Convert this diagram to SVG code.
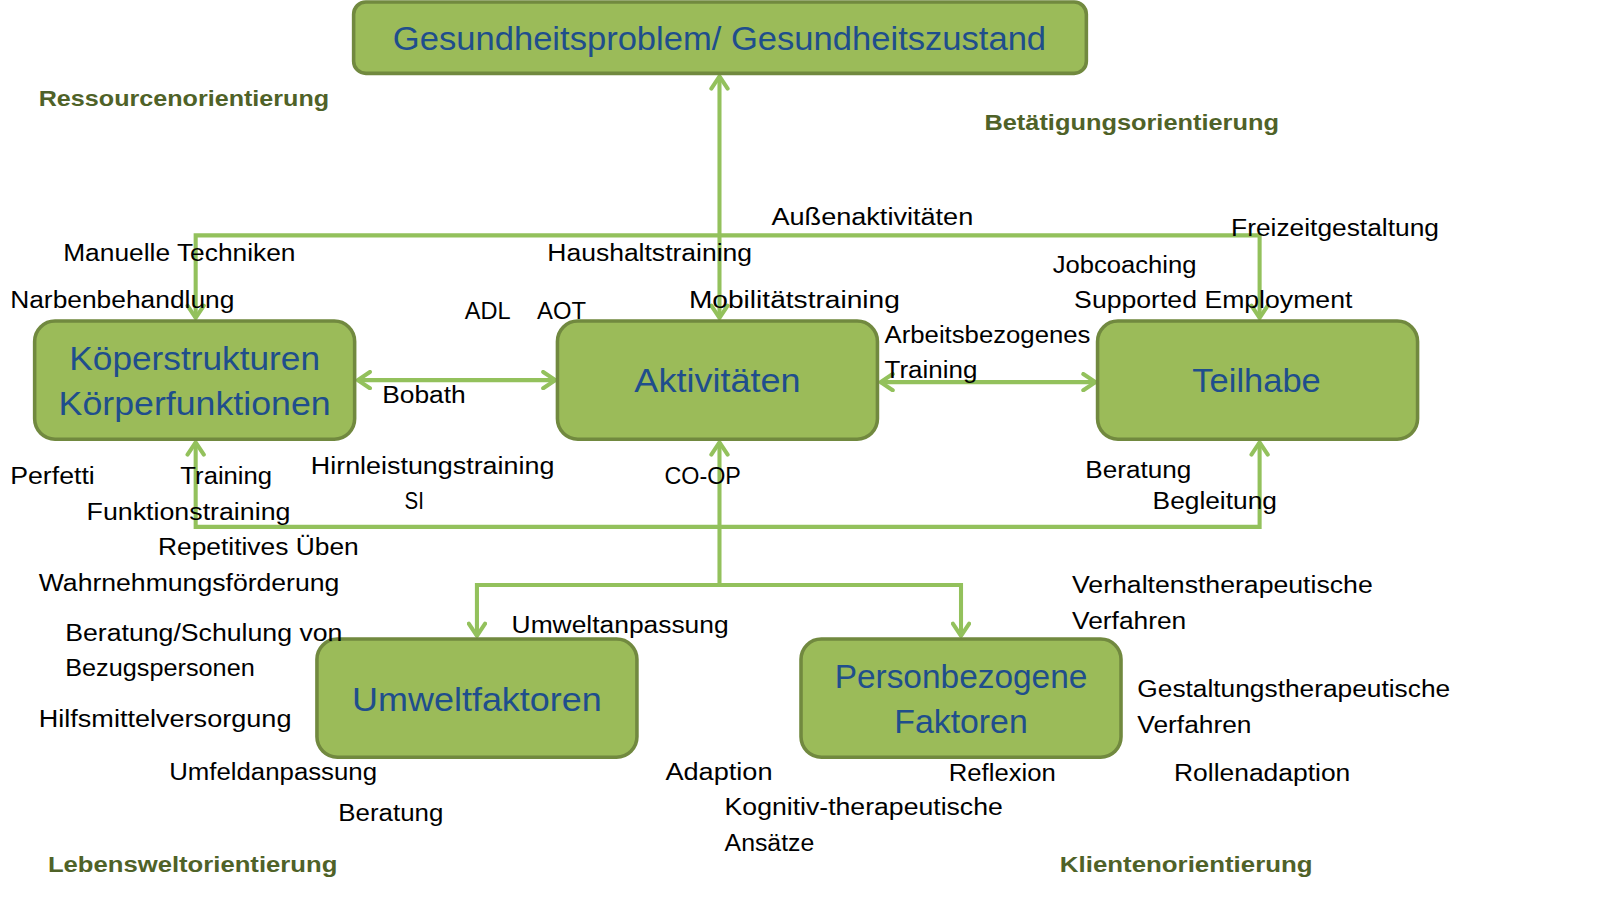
<svg xmlns="http://www.w3.org/2000/svg" width="1598" height="898" viewBox="0 0 1598 898">
<defs>
<style>
.box{fill:#9BBB59;stroke:#71893F;stroke-width:3.5}
.title{font-family:"Liberation Sans",Arial,sans-serif;font-size:33px;fill:#1F4E8C;text-anchor:middle}
.lbl{font-family:"Liberation Sans",Arial,sans-serif;font-size:23.5px;fill:#000}
.ori{font-family:"Liberation Sans",Arial,sans-serif;font-size:22px;font-weight:bold;fill:#4F6228}
.con{fill:none;stroke:#93C15C;stroke-width:4}
</style>
<marker id="ah" viewBox="0 0 20 20" refX="18" refY="10" markerWidth="20" markerHeight="20" markerUnits="userSpaceOnUse" orient="auto-start-reverse">
<path d="M6,2 L18,10 L6,18" fill="none" stroke="#93C15C" stroke-width="4" stroke-linecap="round" stroke-linejoin="round"/>
</marker>
</defs>
<rect width="1598" height="898" fill="#fff"/>
<g id="diagram" transform="scale(1.0191)">
<g id="connectors">
<line class="con" x1="706" y1="312" x2="706" y2="75" marker-start="url(#ah)" marker-end="url(#ah)"/>
<path class="con" d="M192,312 V231 H1236 V312" marker-start="url(#ah)" marker-end="url(#ah)"/>
<line class="con" x1="351" y1="373" x2="545" y2="373" marker-start="url(#ah)" marker-end="url(#ah)"/>
<line class="con" x1="864" y1="375" x2="1075" y2="375" marker-start="url(#ah)" marker-end="url(#ah)"/>
<path class="con" d="M192,434 V517 H1236 V434" marker-start="url(#ah)" marker-end="url(#ah)"/>
<line class="con" x1="706" y1="574" x2="706" y2="434" marker-end="url(#ah)"/>
<path class="con" d="M468,624 V574 H943 V624" marker-start="url(#ah)" marker-end="url(#ah)"/>
</g>

<g id="n-gesundheit">
<rect class="box" x="347" y="2" width="719" height="70" rx="12"/>
<text class="title" x="706" y="49" textLength="641" lengthAdjust="spacingAndGlyphs">Gesundheitsproblem/ Gesundheitszustand</text>
</g>
<g id="n-koerper">
<rect class="box" x="34" y="315" width="314" height="116" rx="20"/>
<text class="title" x="191" y="363" textLength="246" lengthAdjust="spacingAndGlyphs">Köperstrukturen</text>
<text class="title" x="191" y="407" textLength="267" lengthAdjust="spacingAndGlyphs">Körperfunktionen</text>
</g>
<g id="n-aktivitaeten">
<rect class="box" x="547" y="315" width="314" height="116" rx="20"/>
<text class="title" x="704" y="385" textLength="163" lengthAdjust="spacingAndGlyphs">Aktivitäten</text>
</g>
<g id="n-teilhabe">
<rect class="box" x="1077" y="315" width="314" height="116" rx="20"/>
<text class="title" x="1233" y="385" textLength="126" lengthAdjust="spacingAndGlyphs">Teilhabe</text>
</g>
<g id="n-umwelt">
<rect class="box" x="311" y="627" width="314" height="116" rx="20"/>
<text class="title" x="468" y="698" textLength="245" lengthAdjust="spacingAndGlyphs">Umweltfaktoren</text>
</g>
<g id="n-person">
<rect class="box" x="786" y="627" width="314" height="116" rx="20"/>
<text class="title" x="943" y="675" textLength="248" lengthAdjust="spacingAndGlyphs">Personbezogene</text>
<text class="title" x="943" y="719" textLength="131" lengthAdjust="spacingAndGlyphs">Faktoren</text>
</g>

<g id="orientations">
<text class="ori" x="38" y="104" textLength="285" lengthAdjust="spacingAndGlyphs">Ressourcenorientierung</text>
<text class="ori" x="966" y="128" textLength="289" lengthAdjust="spacingAndGlyphs">Betätigungsorientierung</text>
<text class="ori" x="47" y="856" textLength="284" lengthAdjust="spacingAndGlyphs">Lebensweltorientierung</text>
<text class="ori" x="1040" y="856" textLength="248" lengthAdjust="spacingAndGlyphs">Klientenorientierung</text>
</g>

<g id="labels">
<text class="lbl" x="757" y="221" textLength="198" lengthAdjust="spacingAndGlyphs">Außenaktivitäten</text>
<text class="lbl" x="1208" y="232" textLength="204" lengthAdjust="spacingAndGlyphs">Freizeitgestaltung</text>
<text class="lbl" x="62" y="256" textLength="228" lengthAdjust="spacingAndGlyphs">Manuelle Techniken</text>
<text class="lbl" x="537" y="256" textLength="201" lengthAdjust="spacingAndGlyphs">Haushaltstraining</text>
<text class="lbl" x="1033" y="268" textLength="141" lengthAdjust="spacingAndGlyphs">Jobcoaching</text>
<text class="lbl" x="10" y="302" textLength="220" lengthAdjust="spacingAndGlyphs">Narbenbehandlung</text>
<text class="lbl" x="676" y="302" textLength="207" lengthAdjust="spacingAndGlyphs">Mobilitätstraining</text>
<text class="lbl" x="1054" y="302" textLength="273" lengthAdjust="spacingAndGlyphs">Supported Employment</text>
<text class="lbl" x="456" y="313" textLength="45" lengthAdjust="spacingAndGlyphs">ADL</text>
<text class="lbl" x="527" y="313" textLength="48" lengthAdjust="spacingAndGlyphs">AOT</text>
<text class="lbl" x="868" y="337" textLength="202" lengthAdjust="spacingAndGlyphs">Arbeitsbezogenes</text>
<text class="lbl" x="868" y="371" textLength="91" lengthAdjust="spacingAndGlyphs">Training</text>
<text class="lbl" x="375" y="395" textLength="82" lengthAdjust="spacingAndGlyphs">Bobath</text>
<text class="lbl" x="305" y="465" textLength="239" lengthAdjust="spacingAndGlyphs">Hirnleistungstraining</text>
<text class="lbl" x="10" y="475" textLength="83" lengthAdjust="spacingAndGlyphs">Perfetti</text>
<text class="lbl" x="177" y="475" textLength="90" lengthAdjust="spacingAndGlyphs">Training</text>
<text class="lbl" x="652" y="475" textLength="75" lengthAdjust="spacingAndGlyphs">CO-OP</text>
<text class="lbl" x="1065" y="469" textLength="104" lengthAdjust="spacingAndGlyphs">Beratung</text>
<text class="lbl" x="397" y="499" textLength="19" lengthAdjust="spacingAndGlyphs">SI</text>
<text class="lbl" x="1131" y="499" textLength="122" lengthAdjust="spacingAndGlyphs">Begleitung</text>
<text class="lbl" x="85" y="510" textLength="200" lengthAdjust="spacingAndGlyphs">Funktionstraining</text>
<text class="lbl" x="155" y="545" textLength="197" lengthAdjust="spacingAndGlyphs">Repetitives Üben</text>
<text class="lbl" x="38" y="580" textLength="295" lengthAdjust="spacingAndGlyphs">Wahrnehmungsförderung</text>
<text class="lbl" x="1052" y="582" textLength="295" lengthAdjust="spacingAndGlyphs">Verhaltenstherapeutische</text>
<text class="lbl" x="1052" y="617" textLength="112" lengthAdjust="spacingAndGlyphs">Verfahren</text>
<text class="lbl" x="502" y="621" textLength="213" lengthAdjust="spacingAndGlyphs">Umweltanpassung</text>
<text class="lbl" x="64" y="629" textLength="272" lengthAdjust="spacingAndGlyphs">Beratung/Schulung von</text>
<text class="lbl" x="64" y="663" textLength="186" lengthAdjust="spacingAndGlyphs">Bezugspersonen</text>
<text class="lbl" x="1116" y="684" textLength="307" lengthAdjust="spacingAndGlyphs">Gestaltungstherapeutische</text>
<text class="lbl" x="1116" y="719" textLength="112" lengthAdjust="spacingAndGlyphs">Verfahren</text>
<text class="lbl" x="38" y="713" textLength="248" lengthAdjust="spacingAndGlyphs">Hilfsmittelversorgung</text>
<text class="lbl" x="166" y="765" textLength="204" lengthAdjust="spacingAndGlyphs">Umfeldanpassung</text>
<text class="lbl" x="653" y="765" textLength="105" lengthAdjust="spacingAndGlyphs">Adaption</text>
<text class="lbl" x="931" y="766" textLength="105" lengthAdjust="spacingAndGlyphs">Reflexion</text>
<text class="lbl" x="1152" y="766" textLength="173" lengthAdjust="spacingAndGlyphs">Rollenadaption</text>
<text class="lbl" x="711" y="800" textLength="273" lengthAdjust="spacingAndGlyphs">Kognitiv-therapeutische</text>
<text class="lbl" x="332" y="806" textLength="103" lengthAdjust="spacingAndGlyphs">Beratung</text>
<text class="lbl" x="711" y="835" textLength="88" lengthAdjust="spacingAndGlyphs">Ansätze</text>
</g>
</g>
</svg>
